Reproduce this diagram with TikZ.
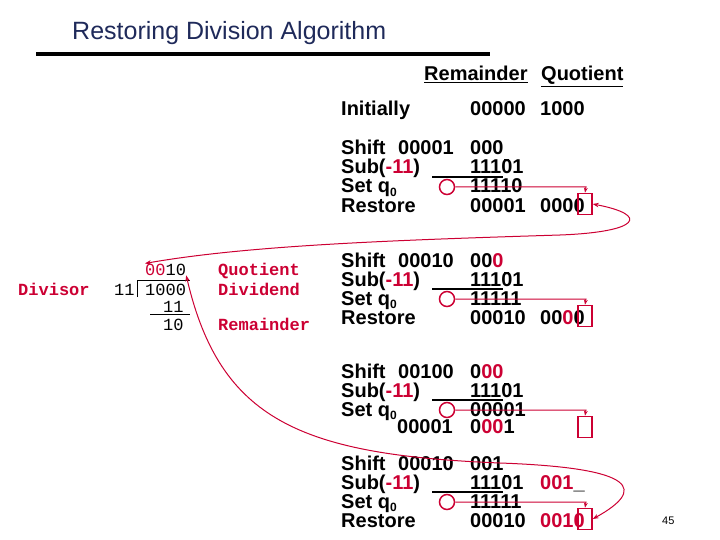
\documentclass[tikz,border=0pt]{standalone}
\usepackage{fontspec}
\setmainfont{Liberation Sans}
\newfontfamily\monob{Liberation Mono}
\usetikzlibrary{arrows.meta}
\definecolor{dred}{RGB}{204,0,51}
\definecolor{navy}{RGB}{31,42,90}
\newcommand{\rd}[1]{\textcolor{dred}{#1}}
\newcommand{\qz}{q\raisebox{-0.3ex}{\fontsize{12}{12}\selectfont 0}}
\begin{document}
\begin{tikzpicture}[x=1pt,y=-1pt]
	\def \lcol{341}
	\def \vcol{398}
	\def \rcol{470}
	\def \qcol{540}
	\tikzstyle{txt}=[anchor=base west,inner sep=0pt,font=\fontsize{20}{20}\selectfont\bfseries]
	\tikzstyle{ctxt}=[anchor=base west,inner sep=0pt,text=dred,font=\monob\fontsize{17}{17}\selectfont\bfseries]
	\tikzstyle{ntxt}=[anchor=base west,inner sep=0pt,font=\monob\fontsize{17}{17}\selectfont]
	\tikzstyle{qbox}=[draw=dred,line width=1.5pt,minimum width=14pt,minimum height=21pt,inner sep=0pt]
	\tikzstyle{qring}=[circle,draw=dred,line width=1.5pt,minimum size=15pt,inner sep=0pt]
	\tikzstyle{set}=[draw=dred,line width=1pt,-{Stealth[length=5pt]}]
	\tikzstyle{back}=[draw=dred,line width=1pt,{Stealth[length=6pt]}-{Stealth[length=6pt]}]
	\useasboundingbox (0,0) rectangle (720,540);
	% title
	\node[anchor=base west,inner sep=0pt,text=navy,font=\fontsize{25}{25}\selectfont] (title) at (72,40) {Restoring Division Algorithm};
	\fill (36,52) rectangle (490,56);
	\node[txt] (hrem) at (424,81) {\underline{Remainder}};
	\node[txt] (hquo) at (541,81) {\underline{Quotient}};
	\node[txt] (init) at (\lcol,116) {Initially};
	\node[txt] (initr) at (\rcol,116) {00000};
	\node[txt] (initq) at (\qcol,116) {1000};
	% long division
	\node[ctxt] (divisor) at (18,295) {Divisor};
	\node[ntxt] (quo) at (145,275) {\rd{00}10};
	\node[ntxt] (dsr) at (114,295) {11};
	\node[ntxt] (dnd) at (145,295) {1000};
	\node[ntxt] (sub) at (163,312) {11};
	\node[ntxt] (rem) at (163,330) {10};
	\draw[line width=1pt] (137,297) -- (137,280) -- (190,280);
	\draw[line width=1pt] (150,314) -- (190,314);
	\node[ctxt] (lquo) at (218,275) {Quotient};
	\node[ctxt] (ldnd) at (218,295) {Dividend};
	\node[ctxt] (lrem) at (218,330) {Remainder};
	% block 1
	\node[txt] (sh1) at (\lcol,155) {Shift};
	\node[txt] (sh1v) at (\vcol,155) {00001};
	\node[txt] (sh1q) at (\rcol,155) {000};
	\node[txt] (sb1) at (\lcol,174) {Sub(\rd{-11})};
	\node[txt] (sb1v) at (\rcol,174) {11101};
	\node[txt] (st1) at (\lcol,193) {Set \qz};
	\node[txt] (st1v) at (\rcol,193) {11110};
	\node[txt] (rs1) at (\lcol,212) {Restore};
	\node[txt] (rs1v) at (\rcol,212) {00001};
	\node[txt] (rs1q) at (\qcol,212) {0000};
	\draw[line width=1.5pt] (432,177) -- (503,177);
	\node[qring] (c1) at (447,187) {};
	\node[qbox] (b1) at (585,204) {};
	\draw[set] (c1.east) -- (586,187) -- (b1.north);
	% block 2
	\node[txt] (sh2) at (\lcol,267) {Shift};
	\node[txt] (sh2v) at (\vcol,267) {00010};
	\node[txt] (sh2q) at (\rcol,267) {00\rd{0}};
	\node[txt] (sb2) at (\lcol,286) {Sub(\rd{-11})};
	\node[txt] (sb2v) at (\rcol,286) {11101};
	\node[txt] (st2) at (\lcol,305) {Set \qz};
	\node[txt] (st2v) at (\rcol,305) {11111};
	\node[txt] (rs2) at (\lcol,324) {Restore};
	\node[txt] (rs2v) at (\rcol,324) {00010};
	\node[txt] (rs2q) at (\qcol,324) {00\rd{0}0};
	\draw[line width=1.5pt] (432,289) -- (503,289);
	\node[qring] (c2) at (447,299) {};
	\node[qbox] (b2) at (585,316) {};
	\draw[set] (c2.east) -- (586,299) -- (b2.north);
	% block 3
	\node[txt] (sh3) at (\lcol,378) {Shift};
	\node[txt] (sh3v) at (\vcol,378) {00100};
	\node[txt] (sh3q) at (\rcol,378) {0\rd{00}};
	\node[txt] (sb3) at (\lcol,397) {Sub(\rd{-11})};
	\node[txt] (sb3v) at (\rcol,397) {11101};
	\node[txt] (st3) at (\lcol,416) {Set \qz};
	\node[txt] (st3v) at (\rcol,416) {00001};
	\node[txt] (rs3v) at (397,433) {00001};
	\node[txt] (rs3q) at (\rcol,433) {0\rd{00}1};
	\draw[line width=1.5pt] (432,400) -- (503,400);
	\node[qring] (c3) at (447,410) {};
	\node[qbox] (b3) at (585,427) {};
	\draw[set] (c3.east) -- (586,410) -- (b3.north);
	% block 4
	\node[txt] (sh4) at (\lcol,470) {Shift};
	\node[txt] (sh4v) at (\vcol,470) {00010};
	\node[txt] (sh4q) at (\rcol,470) {001};
	\node[txt] (sb4) at (\lcol,489) {Sub(\rd{-11})};
	\node[txt] (sb4v) at (\rcol,489) {11101};
	\node[txt] (sb4q) at (\qcol,489) {\rd{001}\_};
	\node[txt] (st4) at (\lcol,508) {Set \qz};
	\node[txt] (st4v) at (\rcol,508) {11111};
	\node[txt] (rs4) at (\lcol,527) {Restore};
	\node[txt] (rs4v) at (\rcol,527) {00010};
	\node[txt] (rs4q) at (\qcol,527) {\rd{0010}};
	\draw[line width=1.5pt] (432,492) -- (503,492);
	\node[qring] (c4) at (447,502) {};
	\node[qbox] (b4) at (585,519) {};
	\draw[set] (c4.east) -- (586,502) -- (b4.north);
	% marks over the sub values
	\foreach \y in {160,272,383,475}
		\draw[line width=1pt] (504,\y) -- (509,\y);
	% back arrows
	\draw[back] (b1.east) .. controls (650,215) and (640,232) .. (560,235)
		.. controls (400,240) and (250,245) .. (quo.north west);
	\draw[back] (b4.east) .. controls (645,490) and (640,468) .. (500,463)
		.. controls (300,455) and (220,420) .. (quo.south east);
	\node[anchor=base west,inner sep=0pt,font=\fontsize{11}{11}\selectfont\rmfamily] (page) at (662,524) {45};
\end{tikzpicture}
\end{document}
